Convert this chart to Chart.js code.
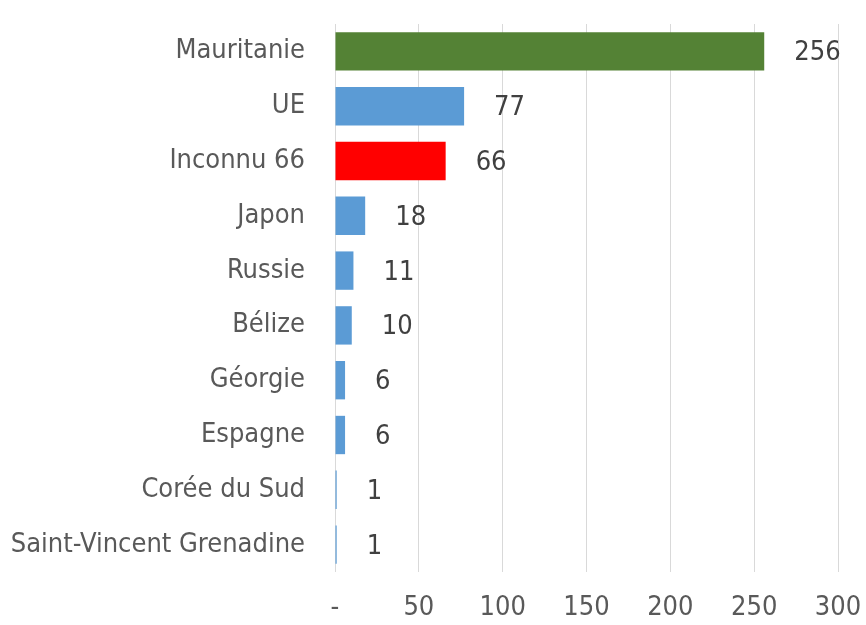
<!DOCTYPE html>
<html>
<head>
  <meta charset="utf-8">
  <script src="https://cdn.jsdelivr.net/npm/chart.js"></script>
  <style>
    body { margin: 0; padding: 0; background: #fff; }
    #wrap { width: 866px; height: 625px; }
  </style>
</head>
<body>
  <div id="wrap"><canvas id="bars"></canvas></div>
  <script>
    const countries = ['Mauritanie', 'UE', 'Inconnu 66', 'Japon', 'Russie', 'Bélize', 'Géorgie', 'Espagne', 'Corée du Sud', 'Saint-Vincent Grenadine'];
    const counts = [256, 77, 66, 18, 11, 10, 6, 6, 1, 1];
    const barColors = ['#548235', '#5b9bd5', '#ff0000', '#5b9bd5', '#5b9bd5', '#5b9bd5', '#5b9bd5', '#5b9bd5', '#5b9bd5', '#5b9bd5'];

    const FONT = "'DejaVu Sans Condensed', 'DejaVu Sans', sans-serif";

    // value labels to the right of each bar
    const valueLabels = {
      id: 'valueLabels',
      afterDatasetsDraw(chart) {
        const ctx = chart.ctx;
        ctx.save();
        ctx.font = '27px ' + FONT;
        ctx.fillStyle = '#404040';
        ctx.textAlign = 'left';
        ctx.textBaseline = 'middle';
        chart.getDatasetMeta(0).data.forEach((bar, i) => {
          ctx.fillText(String(counts[i]), bar.x + 30, bar.y + 2);
        });
        ctx.restore();
      }
    };

    new Chart(document.getElementById('bars'), {
      type: 'bar',
      data: {
        labels: countries,
        datasets: [{
          data: counts,
          backgroundColor: barColors,
          categoryPercentage: 0.7,
          barPercentage: 1.0
        }]
      },
      options: {
        indexAxis: 'y',
        responsive: true,
        maintainAspectRatio: false,
        animation: false,
        layout: { padding: { top: 24, right: 28, left: 0, bottom: 0 } },
        plugins: { legend: { display: false }, tooltip: { enabled: false } },
        scales: {
          x: {
            min: 0, max: 300,
            ticks: {
              stepSize: 50,
              color: '#595959',
              font: { size: 27, family: FONT },
              padding: 20,
              callback: v => v === 0 ? '-' : v
            },
            grid: { color: '#d9d9d9', lineWidth: 1, drawTicks: false },
            border: { display: false },
            afterFit(scale) {
              scale.height = 53;
              scale.paddingLeft = 0;
              scale.paddingRight = 0;
            }
          },
          y: {
            ticks: {
              color: '#595959',
              font: { size: 27, family: FONT },
              padding: 30
            },
            grid: { display: false, drawTicks: false },
            border: { display: false },
            afterFit(scale) {
              scale.width = 335;
              scale.paddingTop = 0;
              scale.paddingBottom = 0;
            }
          }
        }
      },
      plugins: [valueLabels]
    });
  </script>
</body>
</html>
